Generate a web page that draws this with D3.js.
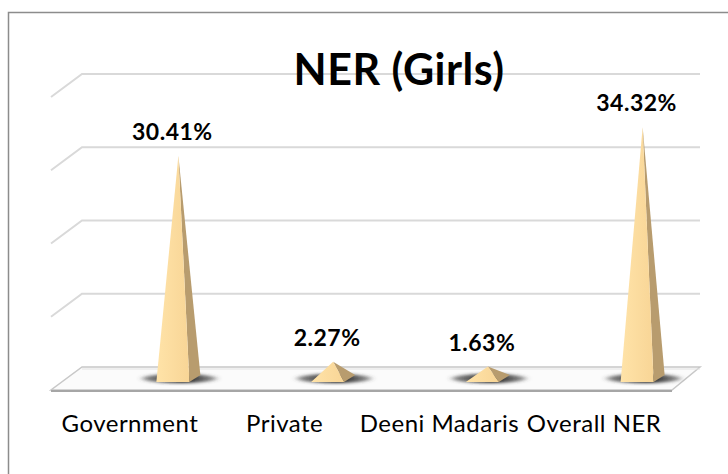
<!DOCTYPE html>
<html>
<head>
<meta charset="utf-8">
<script src="https://cdn.jsdelivr.net/npm/d3@7"></script>
<style>
  html, body { margin: 0; padding: 0; background: #fff; }
  svg { display: block; }
</style>
</head>
<body>
<svg id="chart" width="728" height="474"></svg>
<script>
const categories = ["Government", "Private", "Deeni Madaris", "Overall NER"];
const values = [30.41, 2.27, 1.63, 34.32];
const valueLabels = ["30.41%", "2.27%", "1.63%", "34.32%"];
const gridTicks = [0, 10, 20, 30, 40];
const title = "NER (Girls)";

const svg = d3.select("#chart");
const FONT = "Lato, 'Open Sans', sans-serif";

// chart border
svg.append("rect").attr("x", 8.5).attr("y", 12.5).attr("width", 900).attr("height", 900)
  .attr("fill", "#fff").attr("stroke", "#8c8c8c").attr("stroke-width", 1.5);

// 3D geometry
const depthX = 31, depthY = 23;           // full depth offset (back -> front)
const backLeft = 82, backRight = 700;
const y = d3.scaleLinear().domain([0, 40]).range([367, 74]);   // back wall
const x = d3.scaleBand().domain(categories).range([101, 720]).padding(0); // mid-depth centers

const defs = svg.append("defs");
const blur = defs.append("filter").attr("id", "blur").attr("x", "-50%").attr("y", "-200%")
  .attr("width", "200%").attr("height", "500%");
blur.append("feGaussianBlur").attr("stdDeviation", "3 1.5");

const shadowGrad = defs.append("linearGradient").attr("id", "shgrad").attr("x1", 0).attr("x2", 1);
shadowGrad.append("stop").attr("offset", "0%").attr("stop-color", "#444").attr("stop-opacity", 0.6);
shadowGrad.append("stop").attr("offset", "55%").attr("stop-color", "#111").attr("stop-opacity", 1);
shadowGrad.append("stop").attr("offset", "100%").attr("stop-color", "#444").attr("stop-opacity", 0.55);

const frontGrad = defs.append("linearGradient").attr("id", "fgrad").attr("x1", 0).attr("x2", 1);
frontGrad.append("stop").attr("offset", "0%").attr("stop-color", "#FFE3A8");
frontGrad.append("stop").attr("offset", "100%").attr("stop-color", "#F8D596");

// gridlines (back wall + left side wall)
const grid = svg.append("g");
gridTicks.filter(t => t > 0).forEach(t => {
  const yy = y(t);
  grid.append("path")
    .attr("d", `M${backLeft - depthX},${yy + depthY}L${backLeft},${yy}L${backRight},${yy}`)
    .attr("fill", "none").attr("stroke", "#d9d9d9").attr("stroke-width", 2);
});

// floor
const y0 = y(0);
const floor = svg.append("g");
floor.append("path")
  .attr("d", `M${backLeft},${y0}L${backRight},${y0}L${backRight - depthX + 3},${y0 + depthY}L${backLeft - depthX},${y0 + depthY}Z`)
  .attr("fill", "#fbfbfb").attr("stroke", "#c8c8c8").attr("stroke-width", 1.5);
floor.append("line")
  .attr("x1", backLeft).attr("x2", backRight).attr("y1", y0 + 2).attr("y2", y0 + 2)
  .attr("stroke", "#e3e3e3").attr("stroke-width", 1);
floor.append("line")
  .attr("x1", backLeft - depthX).attr("x2", backRight - depthX + 3)
  .attr("y1", y0 + depthY + 1).attr("y2", y0 + depthY + 1)
  .attr("stroke", "#a6a6a6").attr("stroke-width", 2);

// pyramids at mid depth
const midDX = -depthX / 2, midDY = depthY / 2;
const data = categories.map((c, i) => ({ c, v: values[i], label: valueLabels[i] }));

const py = svg.append("g");
data.forEach(d => {
  const cx = x(d.c) + x.bandwidth() / 2;
  const cy = y(0) + midDY;
  const ay = y(d.v) + midDY;
  // shadow
  py.append("ellipse").attr("cx", cx + 1).attr("cy", cy).attr("rx", 37).attr("ry", 4.5)
    .attr("fill", "url(#shgrad)").attr("filter", "url(#blur)");
  const fl = [cx - 22, cy + 3.5], fr = [cx + 11, cy + 3.5], br = [cx + 22, cy - 3.5], ap = [cx, ay];
  // right face
  py.append("path").attr("d", `M${fr}L${br}L${ap}Z`).attr("fill", "#B89C6E");
  // front face
  py.append("path").attr("d", `M${fl}L${fr}L${ap}Z`).attr("fill", "url(#fgrad)");
  // value label
  svg.append("text").attr("x", cx - 6).attr("y", ay - 16)
    .attr("text-anchor", "middle").attr("font-family", FONT).attr("font-weight", 700)
    .attr("font-size", 23).attr("letter-spacing", 0.5).attr("fill", "#000").text(d.label);
  // category label
  svg.append("text").attr("x", cx - 48.5).attr("y", 432)
    .attr("text-anchor", "middle").attr("font-family", FONT)
    .attr("font-size", 24).attr("letter-spacing", 0.5).attr("fill", "#000").text(d.c);
});

// title
svg.append("text").attr("x", 399).attr("y", 85).attr("text-anchor", "middle")
  .attr("font-family", FONT).attr("font-weight", 700).attr("font-size", 43)
  .attr("letter-spacing", 0.5).attr("fill", "#000").text(title);
</script>
</body>
</html>
